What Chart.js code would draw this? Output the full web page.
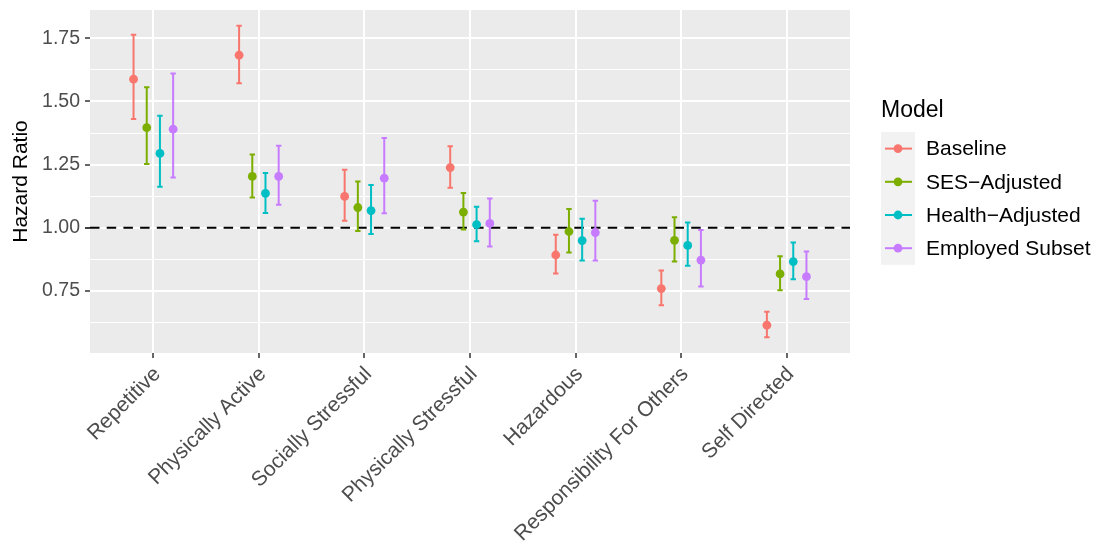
<!DOCTYPE html>
<html>
<head>
<meta charset="utf-8">
<title>Hazard ratios by job characteristic</title>
<script src="https://cdn.jsdelivr.net/npm/chart.js@4/dist/chart.umd.min.js"></script>
<style>
  html, body { margin: 0; padding: 0; background: #fff; }
  #wrap { width: 1099px; height: 543px; }
</style>
</head>
<body>
<div id="wrap"><canvas id="hrChart"></canvas></div>
<script>
// --- DATA ---
const categories = ["Repetitive", "Physically Active", "Socially Stressful", "Physically Stressful",
  "Hazardous", "Responsibility For Others", "Self Directed"];
const models = ["Baseline", "SES\u2212Adjusted", "Health\u2212Adjusted", "Employed Subset"];
const modelColors = ["#F8766D", "#7CAE00", "#00BFC4", "#C77CFF"];

const baselineHR = [1.588, 1.683, 1.124, 1.238, 0.892, 0.759, 0.614];
const baselineLo = [1.430, 1.572, 1.028, 1.158, 0.819, 0.693, 0.566];
const baselineHi = [1.764, 1.800, 1.230, 1.323, 0.972, 0.831, 0.667];

const sesHR = [1.396, 1.203, 1.080, 1.062, 0.985, 0.950, 0.817];
const sesLo = [1.252, 1.120, 0.987, 0.993, 0.902, 0.866, 0.752];
const sesHi = [1.556, 1.290, 1.183, 1.137, 1.074, 1.041, 0.887];

const healthHR = [1.294, 1.136, 1.068, 1.012, 0.949, 0.930, 0.866];
const healthLo = [1.162, 1.058, 0.975, 0.946, 0.870, 0.849, 0.796];
const healthHi = [1.443, 1.217, 1.169, 1.083, 1.036, 1.021, 0.941];

const employedHR = [1.390, 1.203, 1.196, 1.017, 0.981, 0.872, 0.806];
const employedLo = [1.199, 1.091, 1.057, 0.926, 0.870, 0.767, 0.718];
const employedHi = [1.611, 1.325, 1.355, 1.116, 1.107, 0.991, 0.906];

const yMajor = [0.75, 1.00, 1.25, 1.50, 1.75];
const yMinor = [0.625, 0.875, 1.125, 1.375, 1.625];
const refLine = 1.0;

const estimates = [baselineHR, sesHR, healthHR, employedHR];
const lowers = [baselineLo, sesLo, healthLo, employedLo];
const uppers = [baselineHi, sesHi, healthHi, employedHi];

// dodge: 4 models share a width of 0.5 around each category
const dodgeWidth = 0.5;
function dodge(s) {
  const step = dodgeWidth / models.length;
  return -dodgeWidth / 2 + step * (s + 0.5);
}

const FONT = "'Liberation Sans', Arial, sans-serif";

// --- PLUGINS ---

// grey panel like ggplot
const panelBg = {
  id: "panelBg",
  beforeDraw(chart) {
    const { ctx, chartArea: a } = chart;
    ctx.save();
    ctx.fillStyle = "#EBEBEB";
    ctx.fillRect(a.left, a.top, a.right - a.left, a.bottom - a.top);
    ctx.restore();
  }
};

// dashed reference line + error bars, drawn under the points
const errorBars = {
  id: "errorBars",
  beforeDatasetsDraw(chart) {
    const { ctx, chartArea: a, scales: { x, y } } = chart;
    ctx.save();

    // reference line at HR = 1
    const yr = y.getPixelForValue(refLine);
    ctx.strokeStyle = "#000";
    ctx.lineWidth = 2;
    ctx.setLineDash([9.5, 7.2]);
    ctx.beginPath();
    ctx.moveTo(a.left, yr);
    ctx.lineTo(a.right, yr);
    ctx.stroke();
    ctx.setLineDash([]);

    ctx.lineWidth = 2;
    estimates.forEach((est, s) => {
      ctx.strokeStyle = modelColors[s];
      est.forEach((v, i) => {
        const px = x.getPixelForValue(i + 1 + dodge(s));
        const lo = y.getPixelForValue(lowers[s][i]);
        const hi = y.getPixelForValue(uppers[s][i]);
        ctx.beginPath();
        ctx.moveTo(px, lo);
        ctx.lineTo(px, hi);
        ctx.moveTo(px - 2.7, lo);
        ctx.lineTo(px + 2.7, lo);
        ctx.moveTo(px - 2.7, hi);
        ctx.lineTo(px + 2.7, hi);
        ctx.stroke();
      });
    });
    ctx.restore();
  }
};

// ggplot style legend on the right
const sideLegend = {
  id: "sideLegend",
  afterDraw(chart) {
    const { ctx } = chart;
    const left = 881, top = 132, keyW = 34, keyH = 33.2;
    ctx.save();
    ctx.fillStyle = "#000";
    ctx.font = "23px " + FONT;
    ctx.textBaseline = "alphabetic";
    ctx.textAlign = "left";
    ctx.fillText("Model", left, 117);

    ctx.fillStyle = "#F2F2F2";
    ctx.fillRect(left, top, keyW, keyH * models.length);

    models.forEach((m, s) => {
      const cy = top + keyH * (s + 0.5);
      ctx.strokeStyle = modelColors[s];
      ctx.lineWidth = 2;
      ctx.beginPath();
      ctx.moveTo(left + 4, cy);
      ctx.lineTo(left + 31, cy);
      ctx.stroke();
      ctx.fillStyle = modelColors[s];
      ctx.beginPath();
      ctx.arc(left + 17, cy, 4.4, 0, Math.PI * 2);
      ctx.fill();

      ctx.fillStyle = "#000";
      ctx.font = "21px " + FONT;
      ctx.textBaseline = "middle";
      ctx.fillText(m, left + 45, cy + 1);
    });
    ctx.restore();
  }
};

// --- CHART ---

const datasets = models.map((m, s) => ({
  label: m,
  data: estimates[s].map((v, i) => ({ x: i + 1 + dodge(s), y: v })),
  backgroundColor: modelColors[s],
  borderWidth: 0,
  pointRadius: 4.4,
  pointHoverRadius: 4.4,
  showLine: false
}));

const ctx = document.getElementById("hrChart").getContext("2d");
const hrChart = new Chart(ctx, {
  type: "scatter",
  data: { datasets },
  plugins: [panelBg, errorBars, sideLegend],
  options: {
    responsive: true,
    maintainAspectRatio: false,
    animation: false,
    devicePixelRatio: 1,
    layout: { padding: { top: 10, right: 249, left: 0, bottom: 0 } },
    plugins: {
      legend: { display: false },
      tooltip: { enabled: false }
    },
    scales: {
      x: {
        type: "linear",
        min: 0.4,
        max: 7.6,
        afterBuildTicks: (scale) => {
          scale.ticks = categories.map((c, i) => ({ value: i + 1 }));
        },
        afterFit: (scale) => {
          scale.height = 190;
          scale.paddingLeft = 0;
          scale.paddingRight = 0;
        },
        border: { display: false },
        grid: {
          color: "#FFFFFF",
          lineWidth: 2,
          tickLength: 5,
          tickColor: "#333333",
          tickWidth: 1.5
        },
        ticks: {
          autoSkip: false,
          minRotation: 45,
          maxRotation: 45,
          padding: 4,
          labelOffset: 4,
          color: "#4D4D4D",
          font: { family: FONT, size: 21 },
          callback: (v) => categories[Math.round(v) - 1]
        }
      },
      y: {
        type: "linear",
        min: 0.504,
        max: 1.862,
        afterBuildTicks: (scale) => {
          scale.ticks = yMinor.concat(yMajor).sort((a, b) => a - b).map(v => ({ value: v }));
        },
        afterFit: (scale) => {
          scale.width = 90;
          scale.paddingTop = 0;
          scale.paddingBottom = 0;
        },
        border: { display: false },
        grid: {
          color: "#FFFFFF",
          lineWidth: (c) => yMajor.includes(c.tick.value) ? 2 : 1,
          tickLength: 5,
          tickColor: (c) => {
            if (!yMajor.includes(c.tick.value)) return "rgba(0,0,0,0)";
            return c.tick.value === refLine ? "#000000" : "#333333";
          },
          tickWidth: 1.5
        },
        ticks: {
          autoSkip: false,
          padding: 5,
          color: "#4D4D4D",
          font: { family: FONT, size: 19.5 },
          callback: (v) => yMajor.includes(v) ? v.toFixed(2) : ""
        },
        title: {
          display: true,
          text: "Hazard Ratio",
          color: "#000",
          font: { family: FONT, size: 21 },
          padding: { top: 9, bottom: 0 }
        }
      }
    }
  }
});
</script>
</body>
</html>
